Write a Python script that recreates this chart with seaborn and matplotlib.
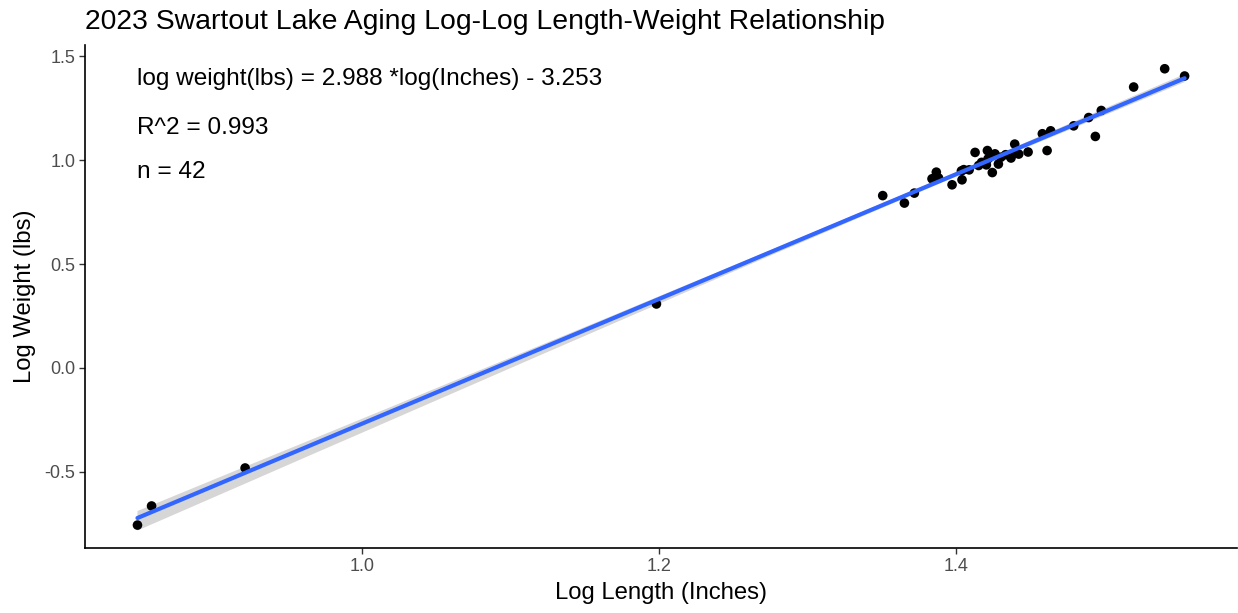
import matplotlib
matplotlib.use("Agg")
import matplotlib.pyplot as plt
import seaborn as sns
import numpy as np
import pandas as pd

log_length = [0.8485, 0.858, 0.921, 1.198,
              1.3504, 1.365, 1.3717, 1.3836, 1.3865, 1.3971, 1.4034, 1.4038, 1.4086,
              1.4126, 1.4209, 1.4202, 1.4213, 1.4242, 1.426, 1.4283, 1.4332, 1.4368,
              1.4393, 1.4399, 1.4483, 1.4579, 1.4611, 1.4635, 1.479, 1.4891, 1.4936,
              1.4976, 1.5194, 1.5403, 1.5537,
              1.388, 1.417, 1.423, 1.430, 1.415, 1.405, 1.442]
log_weight = [-0.757, -0.665, -0.482, 0.308,
              0.830, 0.794, 0.842, 0.911, 0.943, 0.882, 0.949, 0.906, 0.954,
              1.038, 1.047, 0.978, 1.007, 0.941, 1.031, 0.982, 1.027, 1.011,
              1.078, 1.035, 1.040, 1.128, 1.047, 1.142, 1.166, 1.206, 1.115,
              1.240, 1.353, 1.441, 1.406,
              0.915, 0.990, 1.020, 1.015, 0.975, 0.955, 1.030]

title = "2023 Swartout Lake Aging Log-Log Length-Weight Relationship"
annotations = ["log weight(lbs) = 2.988 *log(Inches) - 3.253", "R^2 = 0.993", "n = 42"]
annotation_y = [1.39, 1.155, 0.945]

df = pd.DataFrame({"x": log_length, "y": log_weight})

sns.set_style("white")
plt.rcParams["font.family"] = ["Liberation Sans", "DejaVu Sans"]

fig = plt.figure(figsize=(12.38, 6.13), dpi=100)
ax = fig.add_axes([0.0687, 0.106, 0.9305, 0.821])

sns.regplot(data=df, x="x", y="y", ax=ax, ci=95,
            scatter_kws=dict(s=48, color="black", edgecolor="none", alpha=1, zorder=3),
            line_kws=dict(color="#3366FF", linewidth=3, zorder=4))
for coll in ax.collections[1:]:
    coll.set_facecolor("#999999")
    coll.set_alpha(0.4)
    coll.set_edgecolor("none")

ax.set_xlim(0.8132, 1.589)
ax.set_ylim(-0.8675, 1.5566)
ax.set_xticks([1.0, 1.2, 1.4])
ax.set_xticklabels(["1.0", "1.2", "1.4"])
ax.set_yticks([-0.5, 0.0, 0.5, 1.0, 1.5])
ax.set_yticklabels(["-0.5", "0.0", "0.5", "1.0", "1.5"])
ax.tick_params(axis="both", which="both", length=4, width=1, color="#333333",
               labelsize=13, labelcolor="#4D4D4D", direction="out", bottom=True, left=True, pad=3)
for side in ["top", "right"]:
    ax.spines[side].set_visible(False)
for side in ["left", "bottom"]:
    ax.spines[side].set_color("black")
    ax.spines[side].set_linewidth(1.2)

ax.set_xlabel("Log Length (Inches)", fontsize=17.2, color="black", labelpad=5)
ax.set_ylabel("Log Weight (lbs)", fontsize=17.2, color="black", labelpad=6)
ax.set_title(title, fontsize=20.4, loc="left", x=0.0, pad=11, color="black")

for txt, yy in zip(annotations, annotation_y):
    ax.text(min(log_length), yy, txt, fontsize=17.6, ha="left", va="center", color="black")

fig.savefig("out.png", dpi=100)
